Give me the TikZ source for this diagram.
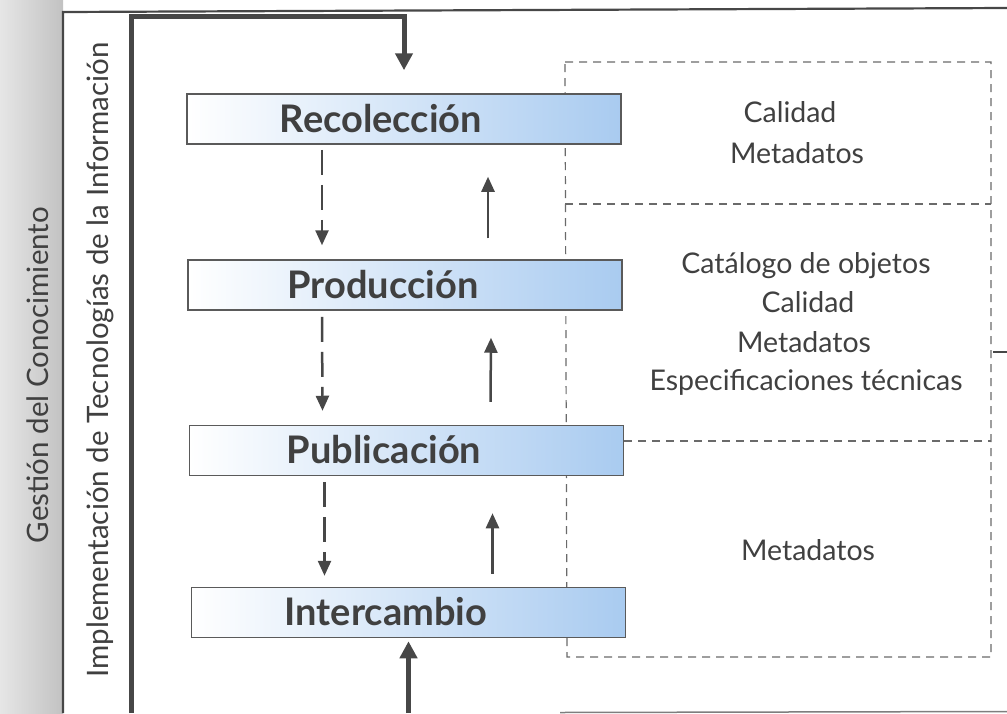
\documentclass[tikz,border=0pt]{standalone}
\usepackage{fontspec}
\setmainfont{Lato}
\usetikzlibrary{arrows.meta,calc}
\definecolor{ink}{HTML}{404040}
\definecolor{lineg}{HTML}{474747}
\definecolor{boxedge}{HTML}{5A5A5A}
\definecolor{boxblue}{HTML}{A9CBF0}
\definecolor{dashg}{HTML}{6A6A6A}
\definecolor{stripl}{HTML}{E6E6E6}
\definecolor{stripg}{HTML}{C2C2C2}
\begin{document}
\begin{tikzpicture}[x=1pt,y=-1pt,
  procbox/.style={draw=boxedge, line width=1.5pt, left color=white, right color=boxblue, minimum width=434pt, minimum height=50pt, inner sep=0pt},
  proclabel/.style={font=\fontsize{38}{38}\selectfont\bfseries, text=ink, inner sep=0pt},
  info/.style={font=\fontsize{28.5}{28.5}\selectfont, text=ink, anchor=base, inner sep=0pt},
  side/.style={font=\fontsize{29.5}{29.5}\selectfont, text=ink, rotate=90, inner sep=0pt},
  mainline/.style={draw=lineg, line width=5pt},
  bigtip/.style={-{Triangle[length=17pt,width=17pt]}},
  flow/.style={draw=lineg, line width=2.5pt, -{Triangle[length=15pt,width=13pt]}},
  dashflow/.style={flow, dash pattern=on 25pt off 10pt},
  region/.style={draw=dashg, line width=1.2pt, dash pattern=on 8pt off 6pt},
]
\useasboundingbox (0,0) rectangle (1007,713);
% grey strip
\fill[left color=stripl, right color=stripg] (0,0) rectangle (63,713);
% thin frame
\draw[lineg, line width=2.2pt] (63,713) -- (63,12) -- (1007,8);
% dashed info region
\draw[region] (565,62) -- (991,62) -- (991,657) -- (567,657) -- cycle;
\draw[region] (565,204) -- (991,204);
% boxes
\node[procbox] (rec) at (404,119) {};
\node[procbox] (prod) at (405,285) {};
\node[procbox] (pub) at (406.5,450.5) {};
\node[procbox] (int) at (408.5,612.5) {};
\draw[region] (pub.east |- 0,441) -- (991,441);
\node[proclabel] (recl) at (381,119) {Recolección};
\node[proclabel] (prodl) at (383,285) {Producción};
\node[proclabel] (publ) at (384,450) {Publicación};
\node[proclabel] (intl) at (386,612) {Intercambio};
% main thick path
\draw[mainline, bigtip] (131,713) -- (131,16) -- (404,16) -- ($(rec.north)+(0,-23)$);
\draw[mainline, bigtip] (408.5,713) -- ($(int.south)+(0,3)$);
\draw[lineg!70, line width=1.5pt] (560,712.5) -- (1007,711.5);
\coordinate (rstub) at (1007,352);
\draw[lineg, line width=2.5pt] (993,352) -- (rstub);
% down dashed arrows
\draw[dashflow] ($(rec.south)+(-82,5)$) -- ($(prod.north)+(-83,-14)$);
\draw[dashflow] ($(prod.south)+(-83,6)$) -- ($(pub.north)+(-84,-14)$);
\draw[dashflow] ($(pub.south)+(-82,6)$) -- ($(int.north)+(-84,-11)$);
% up arrows
\draw[flow] ($(prod.north)+(83,-21)$) -- ($(rec.south)+(84,32)$);
\draw[flow] ($(pub.north)+(84,-23)$) -- ($(prod.south)+(86,27)$);
\draw[flow] ($(int.north)+(84,-13)$) -- ($(pub.south)+(86,37)$);
% info texts
\node[info] (a1) at (790,122) {Calidad};
\node[info] (a2) at (797,163) {Metadatos};
\node[info] (b1) at (806,273) {Catálogo de objetos};
\node[info] (b2) at (808,312) {Calidad};
\node[info] (b3) at (804,352) {Metadatos};
\node[info] (b4) at (806,390) {Especificaciones técnicas};
\node[info] (c1) at (808,560) {Metadatos};
% side texts
\node[side] (gc) at (38,375) {Gestión del Conocimiento};
\node[side] (it) at (100,360) {Implementación de Tecnologías de la Información};
\end{tikzpicture}
\end{document}
